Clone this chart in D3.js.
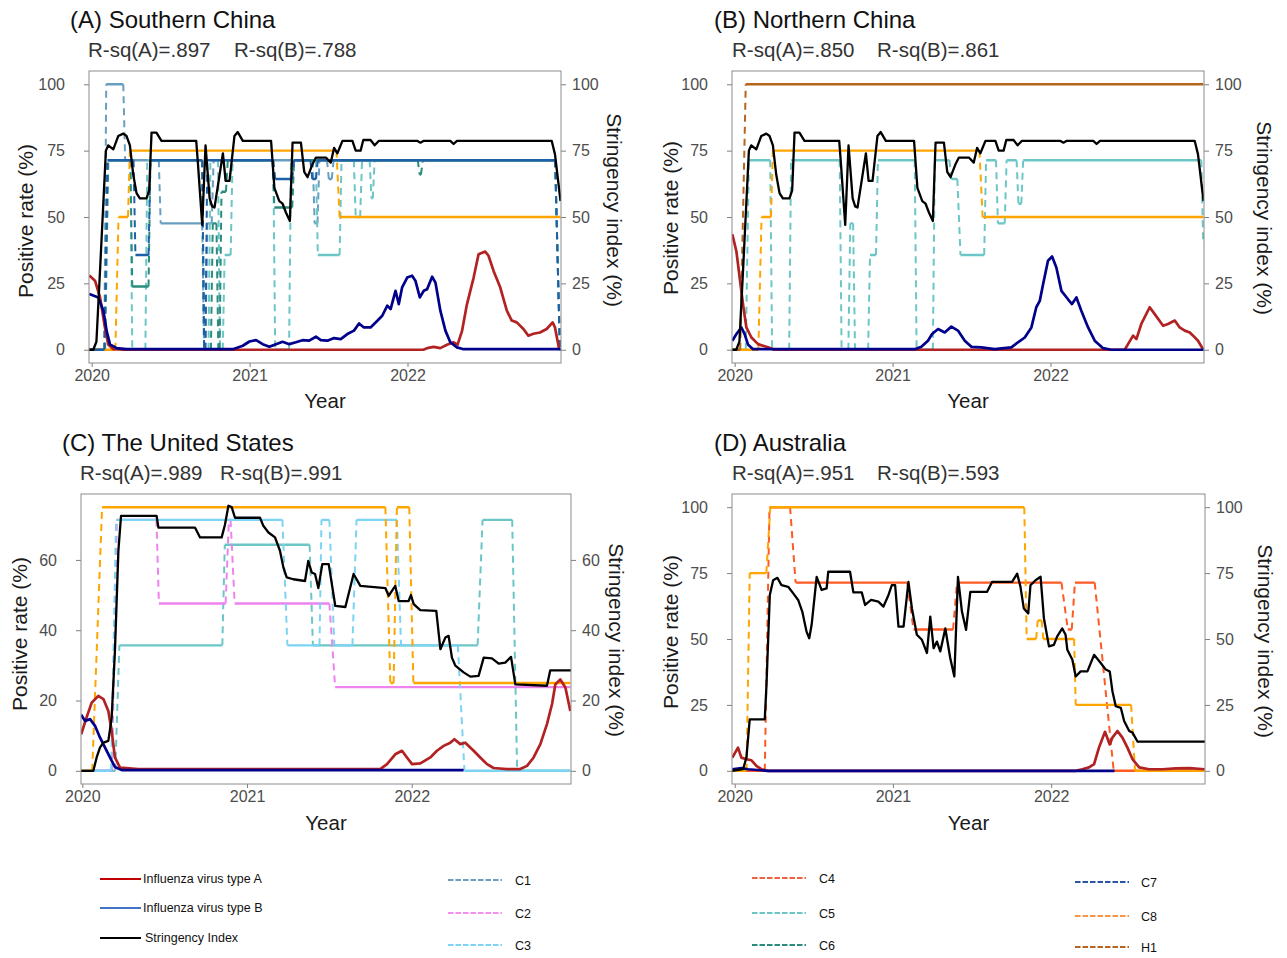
<!DOCTYPE html>
<html>
<head>
<meta charset="utf-8">
<script src="https://d3js.org/d3.v7.min.js"></script>
<style>
  body { margin: 0; background: #fff; }
  text { font-family: "Liberation Sans", Arial, sans-serif; }
</style>
</head>
<body>
<script>
// ---- data (decimal year, value in %) ----
var years = [2020, 2021, 2022];
var ticks100 = [0, 25, 50, 75, 100];
var ticks60 = [0, 20, 40, 60];

// stringency index (same national index used for both China panels)
var chinaSI = [[2019.983,0],[2020.01,0],[2020.03,3],[2020.053,30],[2020.09,75],[2020.105,77],[2020.137,75.5],[2020.168,80.5],[2020.2,81.4],[2020.221,80.5],[2020.242,77],[2020.263,66],[2020.284,59],[2020.305,57],[2020.347,57],[2020.364,60],[2020.379,81.8],[2020.41,81.8],[2020.442,78.7],[2020.662,78.7],[2020.673,70],[2020.7,47],[2020.721,77],[2020.747,57],[2020.763,54],[2020.778,53.6],[2020.831,74],[2020.848,63.6],[2020.873,63.6],[2020.904,80.5],[2020.925,82],[2020.957,78.7],[2021.136,78.7],[2021.157,61],[2021.188,56],[2021.209,55],[2021.23,51.7],[2021.255,48.5],[2021.272,78],[2021.325,78],[2021.346,67],[2021.367,65],[2021.399,70],[2021.42,72.4],[2021.483,72.4],[2021.514,70.5],[2021.535,76],[2021.556,74],[2021.588,78.7],[2021.651,78.7],[2021.672,75],[2021.703,75],[2021.72,79],[2021.766,79],[2021.792,77],[2021.819,78.7],[2022.061,78.7],[2022.082,78],[2022.103,78.7],[2022.271,78.7],[2022.292,77.5],[2022.313,78.7],[2022.913,78.7],[2022.934,73.6],[2022.969,56]];
var usSI = [[2019.992,0],[2020.067,0],[2020.087,3.8],[2020.107,6.6],[2020.128,8],[2020.158,8.5],[2020.178,15],[2020.198,34],[2020.219,62.6],[2020.235,72.5],[2020.451,72.5],[2020.462,69.2],[2020.684,69.2],[2020.715,66.4],[2020.846,66.4],[2020.866,70],[2020.887,75.4],[2020.907,75],[2020.927,72],[2021.079,72],[2021.099,69.7],[2021.13,67.8],[2021.17,66.4],[2021.2,62.6],[2021.221,57.8],[2021.241,55],[2021.281,54.5],[2021.352,54],[2021.372,59.7],[2021.393,56.4],[2021.413,56],[2021.433,52],[2021.457,58.8],[2021.496,58.8],[2021.536,46.9],[2021.597,46.6],[2021.647,56],[2021.688,52.6],[2021.84,52],[2021.86,49.8],[2021.9,52.6],[2021.921,48.3],[2021.981,48.3],[2021.995,50],[2022.012,47.4],[2022.052,45.7],[2022.149,45.5],[2022.174,34.6],[2022.204,37.9],[2022.224,38.4],[2022.244,32.2],[2022.265,29.9],[2022.315,28],[2022.356,26.8],[2022.406,27],[2022.437,32.2],[2022.487,32],[2022.528,30.5],[2022.568,30.8],[2022.603,32.4],[2022.629,24.6],[2022.821,24.2],[2022.841,28.6],[2022.967,28.6]];
var ausSI = [[2019.983,0],[2020.053,0.6],[2020.074,5],[2020.095,19.5],[2020.19,19.5],[2020.201,32.7],[2020.222,66.7],[2020.243,72.3],[2020.27,73.2],[2020.296,70.4],[2020.338,69.8],[2020.37,67.3],[2020.401,64.8],[2020.427,60.4],[2020.454,52.8],[2020.471,50.3],[2020.486,55.3],[2020.518,73.6],[2020.549,68.6],[2020.581,69.2],[2020.591,75.5],[2020.729,75.5],[2020.75,67.7],[2020.803,67.7],[2020.824,62.9],[2020.862,64.8],[2020.908,64.2],[2020.94,62.3],[2020.972,66.7],[2020.993,70.4],[2021.014,70.4],[2021.035,54.7],[2021.067,54.7],[2021.098,71.7],[2021.12,61.6],[2021.151,51.6],[2021.183,49.7],[2021.215,44.7],[2021.236,58.5],[2021.257,46.5],[2021.278,49],[2021.299,45.3],[2021.331,54],[2021.362,42.8],[2021.388,35.8],[2021.411,73.6],[2021.436,60.4],[2021.462,53.5],[2021.489,67.9],[2021.595,67.9],[2021.627,71.7],[2021.753,71.7],[2021.785,74.8],[2021.806,69.8],[2021.827,61.6],[2021.855,59.7],[2021.869,70.4],[2021.901,72.3],[2021.933,73.6],[2021.954,57.9],[2021.986,47.2],[2022.017,47.8],[2022.038,51],[2022.07,54],[2022.091,51.6],[2022.102,45.9],[2022.134,42.1],[2022.155,35.8],[2022.186,37.7],[2022.229,37.7],[2022.271,44],[2022.313,40.9],[2022.345,38.4],[2022.37,37.7],[2022.387,30.2],[2022.408,24.5],[2022.44,23.9],[2022.461,18.9],[2022.493,15.1],[2022.514,14.5],[2022.545,11.1],[2022.972,11.1]];

// influenza positive rates
var southFluA = [[2019.985,28],[2020.021,26],[2020.053,19.7],[2020.084,8.4],[2020.105,2],[2020.137,0.2],[2020.2,0],[2022.1,0],[2022.124,0.6],[2022.166,1.1],[2022.208,0.6],[2022.25,1.9],[2022.292,2.8],[2022.317,1.9],[2022.345,7],[2022.376,17],[2022.418,27],[2022.45,36],[2022.492,37],[2022.513,35.4],[2022.545,29.7],[2022.587,23.5],[2022.629,14.7],[2022.66,11],[2022.692,10.3],[2022.734,7.8],[2022.765,5.3],[2022.797,6],[2022.839,6.5],[2022.881,7.8],[2022.919,10.3],[2022.934,8.4],[2022.961,0]];
var southFluB = [[2019.985,21],[2020.042,19.7],[2020.074,14.7],[2020.095,7],[2020.116,2],[2020.158,0.6],[2020.221,0.2],[2020.894,0.2],[2020.957,1.5],[2020.999,3.1],[2021.041,3.6],[2021.083,2.1],[2021.125,1.1],[2021.167,2.1],[2021.209,3],[2021.251,2.1],[2021.293,2.8],[2021.335,3.6],[2021.377,3.4],[2021.42,4.9],[2021.451,3.6],[2021.493,3.4],[2021.535,4.4],[2021.577,4],[2021.619,5.9],[2021.661,7.2],[2021.693,9.9],[2021.724,8.4],[2021.766,8.4],[2021.809,10.9],[2021.84,12.8],[2021.872,16.6],[2021.893,15.3],[2021.924,22.2],[2021.945,17.2],[2021.966,23.5],[2021.998,27.2],[2022.029,27.9],[2022.05,26],[2022.078,19.7],[2022.103,22.2],[2022.124,22.8],[2022.156,27.5],[2022.177,25.3],[2022.208,14.7],[2022.24,7.2],[2022.271,2.8],[2022.313,0.9],[2022.355,0.2],[2022.97,0.2]];
var northFluA = [[2019.985,43.5],[2020.011,37],[2020.032,27],[2020.053,17],[2020.074,8.4],[2020.106,4.6],[2020.148,2.1],[2020.211,0.9],[2020.253,0],[2022.47,0],[2022.491,2.1],[2022.523,5.3],[2022.544,4],[2022.575,9.7],[2022.628,16],[2022.66,13.4],[2022.713,9],[2022.744,9.7],[2022.787,11],[2022.818,8.4],[2022.85,7.2],[2022.882,6.5],[2022.903,5.3],[2022.934,3.4],[2022.966,0.2]];
var northFluB = [[2019.985,3.4],[2020.011,5.9],[2020.042,8.4],[2020.063,5.9],[2020.084,2],[2020.116,0.2],[2021.14,0.2],[2021.182,1.1],[2021.224,3.4],[2021.25,5.9],[2021.288,7.8],[2021.33,6.5],[2021.372,8.7],[2021.414,7.2],[2021.457,3.4],[2021.499,1.1],[2021.562,0.9],[2021.647,0.2],[2021.752,0.9],[2021.794,2.8],[2021.837,4.6],[2021.879,8.4],[2021.91,16],[2021.932,18.4],[2021.953,24.7],[2021.984,33.5],[2022.01,35.1],[2022.037,31],[2022.069,22.2],[2022.111,19],[2022.136,17.2],[2022.164,19.7],[2022.195,14.7],[2022.238,8.4],[2022.28,3.4],[2022.333,0.6],[2022.385,0],[2022.97,0]];
var usFluA = [[2019.993,10.4],[2020.026,15.2],[2020.057,19.4],[2020.097,21.3],[2020.128,20.4],[2020.158,17],[2020.178,11.4],[2020.198,3.8],[2020.229,0.9],[2020.34,0.5],[2021.809,0.5],[2021.85,1.9],[2021.9,4.7],[2021.941,5.7],[2021.971,3.8],[2022.002,1.9],[2022.052,2.1],[2022.113,3.8],[2022.153,5.7],[2022.194,7.1],[2022.234,8],[2022.259,9],[2022.295,7.6],[2022.325,8],[2022.376,5.7],[2022.416,3.8],[2022.457,1.9],[2022.497,0.8],[2022.578,0.5],[2022.659,0.5],[2022.7,1.4],[2022.74,3.8],[2022.781,7.6],[2022.821,13.3],[2022.852,19],[2022.872,24.6],[2022.902,26],[2022.933,23.7],[2022.963,17]];
var usFluB = [[2019.993,16],[2020.016,14.2],[2020.047,14.7],[2020.077,12.8],[2020.107,9.5],[2020.138,6.6],[2020.168,3.8],[2020.198,1.1],[2020.239,0.2],[2022.315,0.2]];
var ausFluA = [[2019.985,5],[2020.021,8.8],[2020.042,5],[2020.074,4.4],[2020.106,4],[2020.137,1.9],[2020.169,0.6],[2020.211,0],[2022.155,0],[2022.197,0.6],[2022.239,1.3],[2022.271,2.5],[2022.302,8.8],[2022.34,14.8],[2022.37,10],[2022.387,12.6],[2022.419,15.1],[2022.45,12.6],[2022.482,8.8],[2022.514,4.4],[2022.556,1.3],[2022.619,0.6],[2022.704,0.6],[2022.788,0.9],[2022.873,1],[2022.97,0.6]];
var ausFluB = [[2019.985,0.6],[2020.042,1],[2020.084,0.6],[2020.211,0],[2022.4,0]];

// policy indicators: [year the level starts, level, optional transition length]
var southC1 = [[2019.983,0],[2020.08,100],[2020.2,71.4],[2020.425,47.6],[2020.7,0],[2020.72,47.6],[2020.76,71.4],[2021.4,47.6],[2021.43,71.4],[2021.49,64.3],[2021.52,71.4],[2022.935,0,0.03]];
var southC5 = [[2019.983,0],[2020.08,71.4,0.02],[2020.245,0],[2020.34,71.4],[2020.7,0],[2020.74,71.4],[2020.8,0],[2020.83,35.7],[2020.88,71.4],[2021.15,0],[2021.25,71.4],[2021.42,35.7],[2021.57,71.4],[2021.66,50],[2021.7,71.4],[2021.76,57],[2021.78,71.4],[2022.935,0,0.03]];
var southC6 = [[2019.983,0],[2020.085,71.4,0.02],[2020.245,23.8],[2020.36,71.4],[2020.7,0],[2020.755,47.6],[2020.79,0],[2020.81,59.5],[2020.85,71.4],[2021.145,53.6],[2021.27,71.4],[2022.065,66],[2022.085,71.4],[2022.935,0,0.03]];
var southC7 = [[2019.983,0],[2020.08,71.4,0.02],[2020.265,35.7],[2020.36,71.4],[2020.7,0],[2020.72,71.4],[2021.15,64.3],[2021.27,71.4],[2021.385,64.3],[2021.42,71.4],[2022.935,0,0.03]];
var chinaC8 = [[2019.983,0],[2020.15,50,0.02],[2020.23,75],[2021.55,50,0.02]];
var northC5 = [[2019.983,0],[2020.07,71.4,0.02],[2020.225,0],[2020.345,71.4],[2020.665,0],[2020.72,47.6],[2020.75,0],[2020.845,35.7],[2020.895,71.4],[2021.14,0],[2021.255,71.4],[2021.36,64.3],[2021.41,35.7,0.02],[2021.58,71.4],[2021.655,47.6],[2021.71,71.4],[2021.785,55],[2021.815,71.4],[2022.955,40]];
var northH1 = [[2019.983,0],[2020.035,100,0.035]];
var usC2 = [[2019.992,0],[2020.18,71.4,0.03],[2020.45,47.6,0.015],[2020.87,71.4,0.02],[2020.9,47.6,0.025],[2021.5,23.8,0.035]];
var usC3 = [[2019.992,0],[2020.175,71.4,0.03],[2021.215,35.7,0.03],[2021.44,71.4],[2021.5,35.7,0.03],[2021.64,71.4,0.025],[2021.91,35.7,0.025],[2022.28,0,0.04]];
var usC5 = [[2019.992,0],[2020.2,35.7,0.025],[2020.85,64.3,0.015],[2021.38,35.7,0.02],[2022.4,71.4,0.03],[2022.61,0,0.03]];
var usC8 = [[2019.992,0],[2020.06,75,0.06],[2021.84,25,0.03],[2021.89,75,0.02],[2021.985,25,0.025]];
var ausC4 = [[2019.983,0],[2020.19,100,0.03],[2020.35,71.4,0.035],[2021.09,53.6,0.04],[2021.38,71.4,0.025],[2022.065,53.6,0.04],[2022.13,71.4,0.02],[2022.275,0,0.12]];
var ausC8 = [[2019.983,0],[2020.075,75,0.02],[2020.2,100,0.025],[2021.83,50,0.015],[2021.905,57,0.01],[2021.94,50,0.01],[2022.145,25,0.01],[2022.505,0,0.025]];

var plotColors = {C1:"#6a9ec0", C2:"#ee82ee", C3:"#7dd3f3", C4:"#ff5a24", C5:"#6cc6c6", C6:"#2a8c7c", C7:"#1f5fa8", C8:"#ffa500", H1:"#b5651d"};
var fluColors = {A:"#b22222", B:"#00008b", SI:"#000000"};

var legendFlu = [["Influenza virus type A","#c00000"],["Influenza virus type B","#4472c4"],["Stringency Index","#000000"]];
var legendPolicy = [["C1","#6d9dbf"],["C2","#f58ef0"],["C3","#7dd3f3"],["C4","#f0603c"],["C5","#6cc6c6"],["C6","#2a8c7c"],["C7","#2a55a6"],["C8","#f79646"],["H1","#b5651d"]];

var panels = [
  {title:"(A) Southern China", rsq:["R-sq(A)=.897","R-sq(B)=.788"], box:[89,561,71,363], xDom:[2019.983,2022.972], yDom:[-5,105], yTicks:ticks100,
   si:chinaSI, fluA:southFluA, fluB:southFluB, pol:[["C1",southC1],["C5",southC5],["C6",southC6],["C8",chinaC8],["C7",southC7]],
   tx:70, ty:28, rx:[88,234], ry:57, ylx:33, yly:221, rlx:607, rly:210, yearY:408},
  {title:"(B) Northern China", rsq:["R-sq(A)=.850","R-sq(B)=.861"], box:[732,1204,71,363], xDom:[2019.983,2022.972], yDom:[-5,105], yTicks:ticks100,
   si:chinaSI, fluA:northFluA, fluB:northFluB, pol:[["C5",northC5],["C8",chinaC8],["H1",northH1]],
   tx:714, ty:28, rx:[732,877], ry:57, ylx:678, yly:218, rlx:1257, rly:218, yearY:408},
  {title:"(C) The United States", rsq:["R-sq(A)=.989","R-sq(B)=.991"], box:[81,571,494,784], xDom:[2019.992,2022.967], yDom:[-3.75,78.75], yTicks:ticks60,
   si:usSI, fluA:usFluA, fluB:usFluB, pol:[["C5",usC5],["C2",usC2],["C3",usC3],["C8",usC8]],
   tx:62, ty:451, rx:[80,220], ry:480, ylx:27, yly:634, rlx:609, rly:640, yearY:830},
  {title:"(D) Australia", rsq:["R-sq(A)=.951","R-sq(B)=.593"], box:[732,1205,494,784], xDom:[2019.983,2022.972], yDom:[-5,105], yTicks:ticks100,
   si:ausSI, fluA:ausFluA, fluB:ausFluB, pol:[["C4",ausC4],["C8",ausC8]],
   tx:714, ty:451, rx:[732,877], ry:480, ylx:678, yly:632, rlx:1258, rly:641, yearY:830}
];

var svg = d3.select("body").append("svg").attr("width", 1287).attr("height", 958);

function drawPanel(p) {
  var x0 = p.box[0], x1 = p.box[1], y0 = p.box[2], y1 = p.box[3];
  var x = d3.scaleLinear().domain(p.xDom).range([x0, x1]);
  var y = d3.scaleLinear().domain(p.yDom).range([y1, y0]);
  var g = svg.append("g");
  var tEnd = p.xDom[1] - 0.004;

  // axes
  var left = g.append("g").attr("transform", "translate(" + x0 + ",0)")
    .call(d3.axisLeft(y).tickValues(p.yTicks).tickSize(5).tickPadding(19));
  var right = g.append("g").attr("transform", "translate(" + x1 + ",0)")
    .call(d3.axisRight(y).tickValues(p.yTicks).tickSize(5).tickPadding(6));
  var bottom = g.append("g").attr("transform", "translate(0," + y1 + ")")
    .call(d3.axisBottom(x).tickValues(years).tickFormat(d3.format("d")).tickSize(4).tickPadding(3));
  [left, right, bottom].forEach(function(a) {
    a.select(".domain").remove();
    a.selectAll(".tick line").attr("stroke", "#7f7f7f");
    a.selectAll(".tick text").attr("fill", "#4d4d4d").style("font-size", "16px")
      .style("font-family", "Liberation Sans, Arial, sans-serif");
  });

  var clipId = "clip" + x0 + "_" + y0;
  g.append("clipPath").attr("id", clipId).append("rect")
    .attr("x", x0).attr("y", y0).attr("width", x1 - x0).attr("height", y1 - y0);
  var plot = g.append("g").attr("clip-path", "url(#" + clipId + ")");

  var line = d3.line().x(function(d) { return x(d[0]); }).y(function(d) { return y(d[1]); });

  // policy step lines: flat runs solid, jumps dashed
  p.pol.forEach(function(pp) {
    var pts = pp[1], col = plotColors[pp[0]];
    var flat = "", jump = "";
    for (var i = 0; i < pts.length; i++) {
      var s = i === 0 ? pts[i][0] : pts[i][0] + (pts[i][2] || 0.012);
      var e = i < pts.length - 1 ? pts[i + 1][0] : tEnd;
      flat += line([[s, pts[i][1]], [e, pts[i][1]]]);
      if (i < pts.length - 1) {
        var sl = pts[i + 1][2] || 0.012;
        jump += line([[e, pts[i][1]], [e + sl, pts[i + 1][1]]]);
      }
    }
    plot.append("path").attr("d", flat).attr("fill", "none").attr("stroke", col)
      .attr("stroke-width", 2.4);
    plot.append("path").attr("d", jump).attr("fill", "none").attr("stroke", col)
      .attr("stroke-width", 2).attr("stroke-dasharray", "7,5");
  });

  plot.append("path").datum(p.fluA).attr("d", line).attr("fill", "none")
    .attr("stroke", fluColors.A).attr("stroke-width", 2.7).attr("stroke-linejoin", "round");
  plot.append("path").datum(p.fluB).attr("d", line).attr("fill", "none")
    .attr("stroke", fluColors.B).attr("stroke-width", 2.7).attr("stroke-linejoin", "round");
  plot.append("path").datum(p.si).attr("d", line).attr("fill", "none")
    .attr("stroke", fluColors.SI).attr("stroke-width", 2.3).attr("stroke-linejoin", "round");

  // panel border
  g.append("rect").attr("x", x0).attr("y", y0).attr("width", x1 - x0).attr("height", y1 - y0)
    .attr("fill", "none").attr("stroke", "#8c8c8c").attr("stroke-width", 1);

  // texts
  g.append("text").attr("x", p.tx).attr("y", p.ty).text(p.title)
    .style("font-size", "24px").attr("fill", "#111");
  g.append("text").attr("x", p.rx[0]).attr("y", p.ry).text(p.rsq[0]).style("font-size", "20.5px").attr("fill", "#333");
  g.append("text").attr("x", p.rx[1]).attr("y", p.ry).text(p.rsq[1]).style("font-size", "20.5px").attr("fill", "#333");
  g.append("text").attr("transform", "translate(" + p.ylx + "," + p.yly + ") rotate(-90)")
    .attr("text-anchor", "middle").text("Positive rate (%)").style("font-size", "21px").attr("fill", "#1a1a1a");
  g.append("text").attr("transform", "translate(" + p.rlx + "," + p.rly + ") rotate(90)")
    .attr("text-anchor", "middle").text("Stringency index (%)").style("font-size", "21px").attr("fill", "#1a1a1a");
  g.append("text").attr("x", (x0 + x1) / 2).attr("y", p.yearY).attr("text-anchor", "middle")
    .text("Year").style("font-size", "20.5px").attr("fill", "#1a1a1a");
}

panels.forEach(drawPanel);

// ---- legend ----
var lg = svg.append("g");
var fluY = [879, 908, 938];
legendFlu.forEach(function(d, i) {
  lg.append("line").attr("x1", 100).attr("x2", 141).attr("y1", fluY[i]).attr("y2", fluY[i])
    .attr("stroke", d[1]).attr("stroke-width", 2);
  lg.append("text").attr("x", i === 2 ? 145 : 143).attr("y", fluY[i] + 4).text(d[0])
    .style("font-size", "12.5px").attr("fill", "#111");
});
var polCols = [[448, 515, [880, 913, 945]], [752, 819, [878, 913, 945]], [1075, 1141, [882, 916, 947]]];
legendPolicy.forEach(function(d, i) {
  var c = polCols[Math.floor(i / 3)], yy = c[2][i % 3];
  lg.append("line").attr("x1", c[0]).attr("x2", c[0] + 54).attr("y1", yy).attr("y2", yy)
    .attr("stroke", d[1]).attr("stroke-width", 2).attr("stroke-dasharray", "5.5,2");
  lg.append("text").attr("x", c[1]).attr("y", yy + 5).text(d[0])
    .style("font-size", "12.5px").attr("fill", "#111");
});
</script>
</body>
</html>
